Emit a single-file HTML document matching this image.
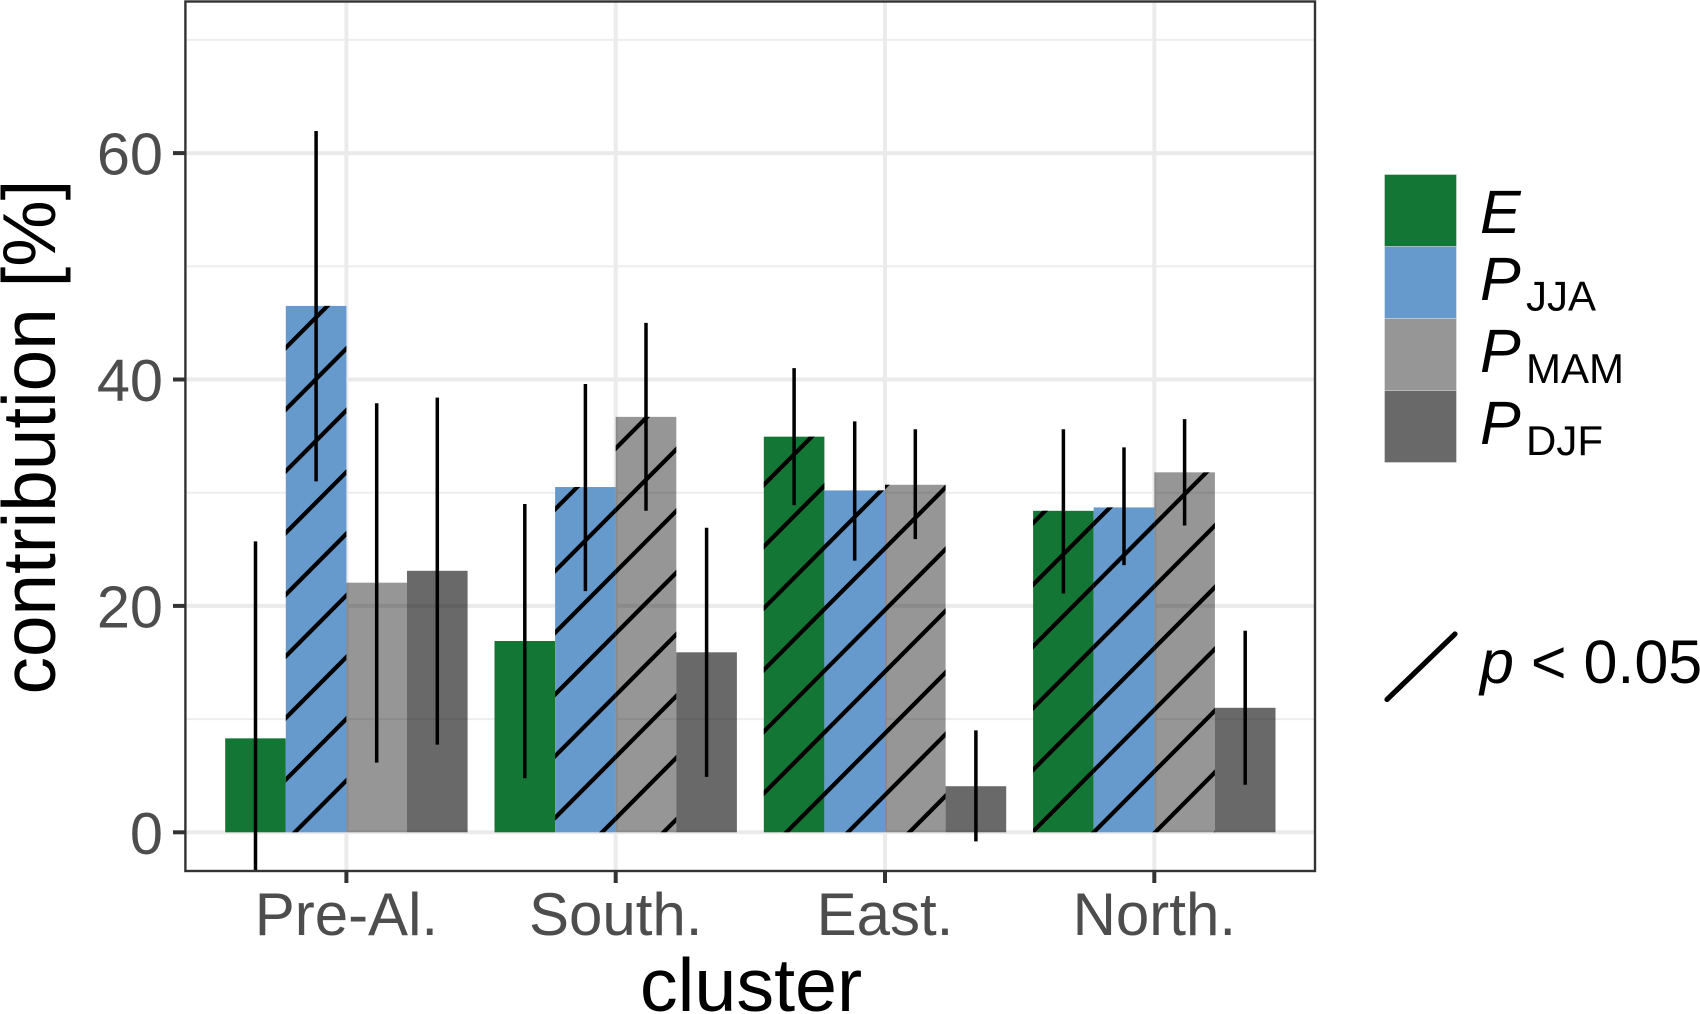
<!DOCTYPE html>
<html>
<head>
<meta charset="utf-8">
<title>Contribution by cluster</title>
<style>
html,body{margin:0;padding:0;background:#fff;}
svg{display:block;}
text{font-family:"Liberation Sans",sans-serif;}
</style>
</head>
<body>
<svg id="chart" xmlns="http://www.w3.org/2000/svg" width="1700" height="1014" viewBox="0 0 1700 1014">
  <defs id="defs"><clipPath id="panel-clip"><rect x="185.4" y="1.5" width="1129.6" height="869.5"></rect></clipPath></defs>
  <rect x="185.4" y="1.5" width="1129.6" height="869.5" fill="#ffffff"></rect>
  <g id="grid"></g>
  <g id="bars"></g>
  <g id="hatches"></g>
  <g id="errors" clip-path="url(#panel-clip)"></g>
  <rect x="185.4" y="1.5" width="1129.6" height="869.5" fill="none" stroke="#333333" stroke-width="2.4"></rect>
  <g id="axes"></g>
  <text x="751" y="1011" font-size="75.5" text-anchor="middle" fill="#000">cluster</text>
  <text transform="translate(55 437) rotate(-90)" font-size="74.7" text-anchor="middle" fill="#000">contribution [%]</text>
  <g>
    <rect x="1384.5" y="174.5" width="72" height="72" fill="#137634" stroke="#ffffff" stroke-opacity="0.35" stroke-width="1"></rect>
    <rect x="1384.5" y="246.5" width="72" height="72" fill="#6699cc" stroke="#ffffff" stroke-opacity="0.35" stroke-width="1"></rect>
    <rect x="1384.5" y="318.5" width="72" height="72" fill="#969696" stroke="#ffffff" stroke-opacity="0.35" stroke-width="1"></rect>
    <rect x="1384.5" y="390.5" width="72" height="72" fill="#696969" stroke="#ffffff" stroke-opacity="0.35" stroke-width="1"></rect>
    <text x="1480" y="233" font-size="61" font-style="italic" fill="#000">E</text>
    <text x="1480" y="300" font-size="61" font-style="italic" fill="#000">P</text>
    <text x="1526" y="310.5" font-size="42" fill="#000">JJA</text>
    <text x="1480" y="372" font-size="61" font-style="italic" fill="#000">P</text>
    <text x="1526" y="383" font-size="42" fill="#000">MAM</text>
    <text x="1480" y="444" font-size="61" font-style="italic" fill="#000">P</text>
    <text x="1526" y="455" font-size="42" fill="#000">DJF</text>
    <line x1="1387" y1="699.5" x2="1455" y2="634" stroke="#000" stroke-width="5.2" stroke-linecap="round"></line>
    <text x="1480" y="683" font-size="61" fill="#000"><tspan font-style="italic">p</tspan> &lt; 0.05</text>
  </g>
</svg>
<script>
var clusters = ['Pre-Al.', 'South.', 'East.', 'North.'];
var seriesNames = ['E', 'P_JJA', 'P_MAM', 'P_DJF'];
var yTickLabels = [0, 20, 40, 60];
var yMinorTicks = [10, 30, 50, 70];

var valuesE = [8.3, 16.9, 34.95, 28.4];
var valuesJJA = [46.5, 30.5, 30.2, 28.7];
var valuesMAM = [22.05, 36.7, 30.7, 31.8];
var valuesDJF = [23.1, 15.9, 4.07, 11.0];

var lowerE = [-3.4, 4.77, 28.9, 21.1];
var upperE = [25.7, 29.0, 41.0, 35.6];
var lowerJJA = [31.0, 21.3, 24.0, 23.6];
var upperJJA = [61.95, 39.6, 36.3, 34.0];
var lowerMAM = [6.15, 28.4, 25.9, 27.1];
var upperMAM = [37.9, 45.0, 35.6, 36.5];
var lowerDJF = [7.75, 4.9, -0.8, 4.2];
var upperDJF = [38.4, 26.9, 9.0, 17.8];

var significantE = [0, 0, 1, 1];
var significantJJA = [1, 1, 1, 1];
var significantMAM = [0, 1, 1, 1];
var significantDJF = [0, 0, 0, 0];

(function () {
  var NS = 'http://www.w3.org/2000/svg';
  var values = [valuesE, valuesJJA, valuesMAM, valuesDJF];
  var lowers = [lowerE, lowerJJA, lowerMAM, lowerDJF];
  var uppers = [upperE, upperJJA, upperMAM, upperDJF];
  var flags = [significantE, significantJJA, significantMAM, significantDJF];
  var fills = ['#137634', '#6699cc', 'rgba(0,0,0,0.41)', 'rgba(0,0,0,0.59)'];

  var panelLeft = 185.4, panelRight = 1315, panelBottom = 871;
  var barWidth = 60.6;
  function xCluster(i) { return 346.4 + 269.3 * i; }
  function xBar(i, s) { return xCluster(i) + (s - 2) * barWidth; }
  function yValue(v) { return 832.3 - v * 11.32; }

  var hatchSlope = 1.004, hatchSpacing = 61.7, hatchPhase = 1066.6;

  function make(tag, attrs, parent) {
    var el = document.createElementNS(NS, tag);
    for (var k in attrs) { el.setAttribute(k, attrs[k]); }
    parent.appendChild(el);
    return el;
  }

  var grid = document.getElementById('grid');
  var bars = document.getElementById('bars');
  var hatches = document.getElementById('hatches');
  var errors = document.getElementById('errors');
  var axes = document.getElementById('axes');
  var defs = document.getElementById('defs');

  yMinorTicks.forEach(function (t) {
    var line = make('line', { x1: panelLeft, x2: panelRight, y1: yValue(t), y2: yValue(t), stroke: '#eeeeee', 'stroke-width': 2 }, grid);
    
    
  });
  yTickLabels.forEach(function (t) {
    var line = make('line', { x1: panelLeft, x2: panelRight, y1: yValue(t), y2: yValue(t), stroke: '#ebebeb', 'stroke-width': 4 }, grid);
    
    
    var tick = make('line', { x1: 173, x2: panelLeft, y1: yValue(t), y2: yValue(t), stroke: '#333333', 'stroke-width': 4 }, axes);
    
    
    var label = make('text', { x: 163, y: yValue(t) + 21.5, 'font-size': 59.5, 'text-anchor': 'end', fill: '#4d4d4d' }, axes);
    
    
    label.textContent = t;
  });
  clusters.forEach(function (c, i) {
    var line = make('line', { x1: xCluster(i), x2: xCluster(i), y1: 1.5, y2: panelBottom, stroke: '#ebebeb', 'stroke-width': 4 }, grid);
    
    
    var tick = make('line', { x1: xCluster(i), x2: xCluster(i), y1: panelBottom, y2: 883, stroke: '#333333', 'stroke-width': 4 }, axes);
    
    
    var label = make('text', { x: xCluster(i), y: 935, 'font-size': 60, 'text-anchor': 'middle', fill: '#4d4d4d' }, axes);
    
    
    label.textContent = c;
  });

  clusters.forEach(function (c, i) {
    seriesNames.forEach(function (name, s) {
      var x = xBar(i, s), top = yValue(values[s][i]), base = yValue(0);
      var rect = make('rect', { x: x, y: Math.min(top, base), width: barWidth, height: Math.abs(base - top), fill: fills[s] }, bars);
      
      

      if (flags[s][i]) {
        var id = 'hatch-clip-' + i + '-' + s;
        var clip = make('clipPath', { id: id }, defs);
        make('rect', { x: x, y: Math.min(top, base), width: barWidth, height: Math.abs(base - top) }, clip);
        var group = make('g', { 'clip-path': 'url(#' + id + ')' }, hatches);
        
        
        var cMin = Math.min(top, base) + hatchSlope * x;
        var cMax = Math.max(top, base) + hatchSlope * (x + barWidth);
        var n = Math.floor((cMin - hatchPhase) / hatchSpacing) - 1;
        for (var cc = hatchPhase + n * hatchSpacing; cc <= cMax + hatchSpacing; cc += hatchSpacing) {
          var hl = make('line', { x1: x - 5, x2: x + barWidth + 5, y1: cc - hatchSlope * (x - 5), y2: cc - hatchSlope * (x + barWidth + 5), stroke: '#000', 'stroke-width': 4.2 }, group);
          
          
        }
      }

      var xc = x + barWidth / 2;
      var err = make('line', { x1: xc, x2: xc, y1: yValue(uppers[s][i]), y2: yValue(lowers[s][i]), stroke: '#000', 'stroke-width': 3.5 }, errors);
      
      
    });
  });
})();
</script>
</body>
</html>
